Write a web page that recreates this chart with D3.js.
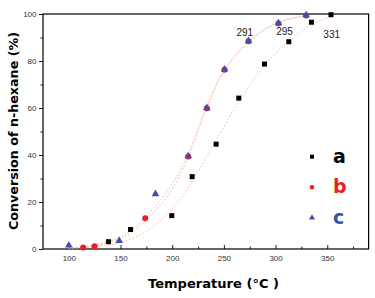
<!DOCTYPE html>
<html><head><meta charset="utf-8">
<script src="https://cdn.jsdelivr.net/npm/d3@7"></script>
<style>
html,body{margin:0;padding:0;background:#fff;}
svg{display:block;}
</style></head>
<body>
<svg id="chart" width="375" height="298"></svg>
<script>
// ---- data ----
const seriesNames = ["a", "b", "c"];
const aTemp = [138.4, 159.7, 199.6, 219.3, 242.5, 264.4, 289.3, 312.8, 334.7, 353.6];
const aConv = [3.1, 8.3, 14.2, 30.8, 44.6, 64.2, 78.7, 88.2, 96.5, 99.7];
const bTemp = [113.9, 124.9, 173.9, 215.5, 233.5, 250.6, 273.8, 302.8, 329.6];
const bConv = [0.6, 1.15, 13.1, 39.4, 59.9, 76.3, 88.4, 96.0, 99.4];
const cTemp = [100, 148.7, 183.8, 215.5, 233.5, 250.6, 273.8, 302.8, 329.6];
const cConv = [1.4, 3.4, 23.3, 39.4, 59.9, 76.3, 88.4, 96.0, 99.4];
// fitted (dashed) curves
const fitATemp = [100, 125, 150, 175, 200, 213, 225, 242, 265, 290, 313, 335, 355];
const fitAConv = [0.3, 1.0, 2.8, 7.5, 17, 24.5, 33, 46, 63, 78.5, 88.5, 95.5, 99];
const fitBTemp = [100, 125, 150, 160, 175, 190, 200, 215, 233, 250, 274, 300, 330];
const fitBConv = [0.3, 1.4, 4.3, 6.8, 12.5, 19.5, 25.5, 38.5, 59.5, 75.5, 88, 96, 99.4];
const fitCTemp = [100, 125, 150, 160, 175, 190, 200, 215, 233, 250, 274, 300, 330];
const fitCConv = [0.5, 1.8, 5.0, 7.8, 14.0, 21.5, 27.5, 40, 60.2, 76, 88.4, 96, 99.4];
const xTicks = [100, 150, 200, 250, 300, 350];
const xMinor = [125, 175, 225, 275, 325, 375];
const yTicks = [0, 20, 40, 60, 80, 100];
const yMinor = [10, 30, 50, 70, 90];
const annotText = ["291", "295", "331"];
const legendColors = ["#000000", "#ee1c24", "#3f4fae"];

// ---- layout ----
const svg = d3.select("#chart");
const L = 43, R = 368.6, T = 14, B = 249;
const x = d3.scaleLinear().domain([75, 390]).range([L, R]);
const y = d3.scaleLinear().domain([0, 100]).range([B, T]);

// axes
const xAxis = svg.append("g").attr("transform", `translate(0,${B})`)
  .call(d3.axisBottom(x).tickValues(xTicks).tickSize(-4).tickPadding(6).tickSizeOuter(0));
const xAxisMinor = svg.append("g").attr("transform", `translate(0,${B})`)
  .call(d3.axisBottom(x).tickValues(xMinor).tickSize(-2.5).tickFormat("").tickSizeOuter(0));
const yAxis = svg.append("g").attr("transform", `translate(${L},0)`)
  .call(d3.axisLeft(y).tickValues(yTicks).tickSize(4).tickPadding(2.5).tickSizeOuter(0));
const yAxisMinor = svg.append("g").attr("transform", `translate(${L},0)`)
  .call(d3.axisLeft(y).tickValues(yMinor).tickSize(2.5).tickFormat("").tickSizeOuter(0));
[xAxis, xAxisMinor, yAxis, yAxisMinor].forEach(g => {
  g.select(".domain").remove();
  g.selectAll(".tick line").attr("stroke", "#000").attr("stroke-width", 0.9);
  g.selectAll(".tick text").attr("fill", "#333").style("font-family", "Liberation Sans, Arial, sans-serif").style("font-size", "8px");
});

// frame
svg.append("rect").attr("x", L).attr("y", T).attr("width", R - L).attr("height", B - T)
  .attr("fill", "none").attr("stroke", "#000").attr("stroke-width", 1.2);

// fitted curves
const line = d3.line().x(d => x(d[0])).y(d => y(d[1])).curve(d3.curveCatmullRom);
[[fitATemp, fitAConv], [fitBTemp, fitBConv], [fitCTemp, fitCConv]].forEach(([t, c]) => {
  svg.append("path").datum(t.map((v, i) => [v, c[i]]))
    .attr("d", line).attr("fill", "none")
    .attr("stroke", "#f5ab8e").attr("stroke-width", 0.8).attr("stroke-dasharray", "1.6,2");
});

// markers
const sq = 5;
svg.append("g").selectAll("rect").data(aTemp.map((v, i) => [v, aConv[i]])).join("rect")
  .attr("x", d => x(d[0]) - sq / 2).attr("y", d => y(d[1]) - sq / 2)
  .attr("width", sq).attr("height", sq).attr("fill", legendColors[0]);
svg.append("g").selectAll("circle").data(bTemp.map((v, i) => [v, bConv[i]])).join("circle")
  .attr("cx", d => x(d[0])).attr("cy", d => y(d[1])).attr("r", 3).attr("fill", legendColors[1]);
const tri = d3.symbol().type(d3.symbolTriangle).size(25);
svg.append("g").selectAll("path").data(cTemp.map((v, i) => [v, cConv[i]])).join("path")
  .attr("d", tri).attr("transform", d => `translate(${x(d[0])},${y(d[1]) - 0.3})`)
  .attr("fill", legendColors[2]);

// annotations
const annotX = [244.8, 284.5, 331.7];
const annotY = [35.6, 35.4, 38.2];
svg.append("g").selectAll("text").data(annotText).join("text")
  .attr("x", (d, i) => annotX[i]).attr("y", (d, i) => annotY[i])
  .attr("text-anchor", "middle").attr("fill", "#222")
  .style("font-family", "Liberation Sans, Arial, sans-serif").style("font-size", "10px")
  .text(d => d);

// legend
const legY = [156.7, 187.3, 217.7];
const lg = svg.append("g");
lg.append("rect").attr("x", 312 - 2).attr("y", legY[0] - 2).attr("width", 4).attr("height", 4).attr("fill", legendColors[0]);
lg.append("circle").attr("cx", 312).attr("cy", legY[1]).attr("r", 2.2).attr("fill", legendColors[1]);
lg.append("path").attr("d", d3.symbol().type(d3.symbolTriangle).size(16)).attr("transform", `translate(312,${legY[2]})`).attr("fill", legendColors[2]);
lg.selectAll("text").data(seriesNames).join("text")
  .attr("x", 333).attr("y", (d, i) => legY[i] + 6)
  .attr("fill", (d, i) => legendColors[i])
  .style("font-family", "DejaVu Sans, sans-serif").style("font-weight", "bold").style("font-size", "19px")
  .text(d => d);

// axis titles
svg.append("text").attr("x", 213.5).attr("y", 287.5).attr("text-anchor", "middle")
  .attr("textLength", 131).attr("lengthAdjust", "spacingAndGlyphs")
  .style("font-family", "DejaVu Sans, sans-serif").style("font-weight", "bold").style("font-size", "12px")
  .text("Temperature (°C )");
svg.append("text").attr("transform", "translate(17.5,131) rotate(-90)").attr("text-anchor", "middle")
  .attr("textLength", 198).attr("lengthAdjust", "spacingAndGlyphs")
  .style("font-family", "DejaVu Sans, sans-serif").style("font-weight", "bold").style("font-size", "12px")
  .text("Conversion of n-hexane (%)");
</script>
</body></html>
